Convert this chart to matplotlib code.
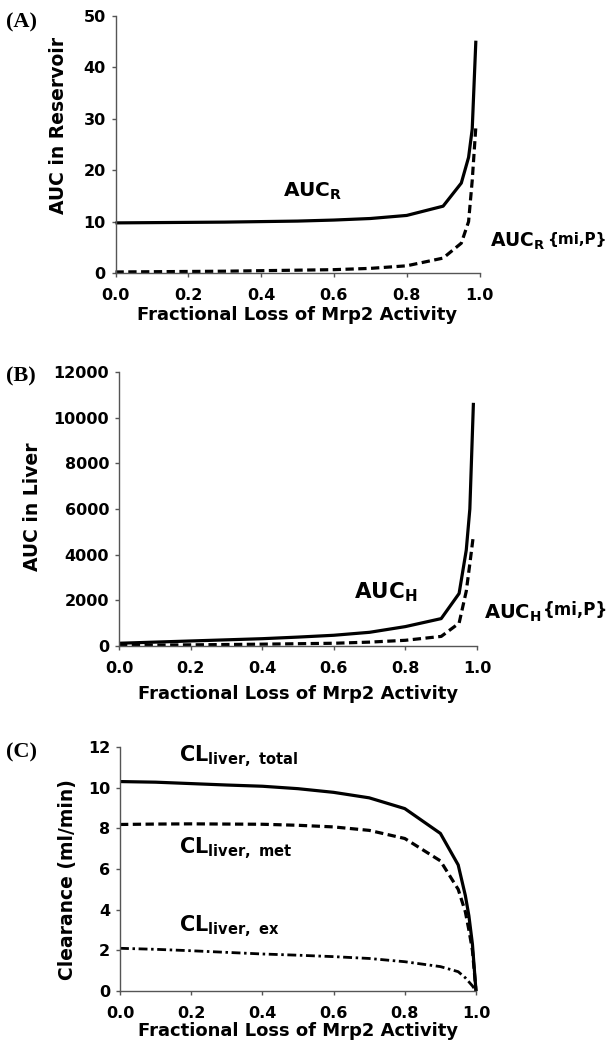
import matplotlib
matplotlib.use("Agg")
import matplotlib.pyplot as plt

plt.rcParams['font.family'] = ['DejaVu Sans']
plt.rcParams['font.weight'] = 'bold'
plt.rcParams['mathtext.fontset'] = 'custom'
plt.rcParams['mathtext.rm'] = 'DejaVu Sans:bold'
plt.rcParams['mathtext.it'] = 'DejaVu Sans:bold'
plt.rcParams['mathtext.bf'] = 'DejaVu Sans:bold'
plt.rcParams['mathtext.sf'] = 'DejaVu Sans:bold'
plt.rcParams['mathtext.default'] = 'rm'

# ---- data ----
x_auc = [0, 0.1, 0.2, 0.3, 0.4, 0.5, 0.6, 0.7, 0.8, 0.9, 0.95, 0.97, 0.98, 0.99]
auc_r = [9.75, 9.8, 9.85, 9.9, 10.0, 10.1, 10.3, 10.6, 11.2, 13.0, 17.5, 22.5, 28.0, 45.2]
auc_r_mip = [0.2, 0.25, 0.3, 0.35, 0.45, 0.55, 0.65, 0.9, 1.4, 2.9, 5.8, 10.0, 18.0, 28.5]

auc_h = [120, 170, 220, 270, 320, 390, 470, 600, 850, 1200, 2300, 4200, 6000, 10650]
auc_h_mip = [30, 40, 50, 65, 80, 100, 120, 170, 250, 420, 1000, 2400, 3600, 4850]

x_cl = [0, 0.1, 0.2, 0.3, 0.4, 0.5, 0.6, 0.7, 0.8, 0.9, 0.95, 0.97, 0.98, 0.99, 1.0]
cl_total = [10.3, 10.27, 10.2, 10.13, 10.07, 9.95, 9.77, 9.5, 8.97, 7.75, 6.2, 4.7, 3.7, 2.3, 0]
cl_met = [8.19, 8.21, 8.22, 8.21, 8.2, 8.15, 8.07, 7.9, 7.5, 6.4, 5.0, 3.9, 3.0, 2.0, 0]
cl_ex = [2.1, 2.05, 1.98, 1.9, 1.82, 1.76, 1.69, 1.6, 1.44, 1.2, 0.95, 0.65, 0.45, 0.25, 0]

xticks = [0.0, 0.2, 0.4, 0.6, 0.8, 1.0]
xtick_labels = ['0.0', '0.2', '0.4', '0.6', '0.8', '1.0']
xlabel = 'Fractional Loss of Mrp2 Activity'

W, H = 615, 1050
fig = plt.figure(figsize=(W / 100, H / 100), dpi=100)

def axes_px(l, r, t, b):
    return fig.add_axes([l / W, 1 - b / H, (r - l) / W, (b - t) / H])

axA = axes_px(115.5, 479.5, 16, 273)
axB = axes_px(119, 477, 372, 646)
axC = axes_px(120, 476, 747, 991)

solid = dict(color='black', lw=2.3, solid_capstyle='butt')
dashed = dict(color='black', lw=2.3, linestyle=(0, (2.6, 1.4)))
dashdot = dict(color='black', lw=2.0, linestyle=(0, (3.2, 1.3, 0.9, 1.3)))

def style(ax, ymax, yticks, ylabel, ylab_xy, xlab_y):
    ax.set_xlim(0, 1.0)
    ax.set_ylim(0, ymax)
    ax.set_xticks(xticks)
    ax.set_xticklabels(xtick_labels)
    ax.set_yticks(yticks)
    for s in ['top', 'right']:
        ax.spines[s].set_visible(False)
    for s in ['left', 'bottom']:
        ax.spines[s].set_color('#555555')
        ax.spines[s].set_linewidth(1.0)
    ax.tick_params(axis='both', direction='out', length=3, width=1.0,
                   color='#555555', labelsize=11.5)
    ax.tick_params(axis='x', pad=8)
    ax.tick_params(axis='y', pad=4)
    for lab in ax.get_xticklabels() + ax.get_yticklabels():
        lab.set_fontweight('bold')
    ax.set_ylabel(ylabel, fontsize=13.5, fontweight='bold', va='center')
    ax.yaxis.set_label_coords(*ylab_xy)
    ax.set_xlabel(xlabel, fontsize=13, fontweight='bold', va='center')
    ax.xaxis.set_label_coords(0.5, xlab_y)
    ax.patch.set_alpha(0)
    for line in ax.lines:
        line.set_clip_on(False)

# Panel A
axA.plot(x_auc, auc_r, **solid)
axA.plot(x_auc, auc_r_mip, **dashed)
style(axA, 50, [0, 10, 20, 30, 40, 50], 'AUC in Reservoir',
      ((59 - 115.5) / 364, (273 - 125) / 257), (273 - 315) / 257)
axA.text(0.46, 14.8, r'AUC$_{R}$', fontsize=14.5, fontweight='bold',
         ha='left', va='baseline')
tA = axA.text(1.03, 5.1, r'AUC$_{R}$', fontsize=13.5, fontweight='bold',
              ha='left', va='baseline', clip_on=False)
axA.annotate('{mi,P}', xy=(1, 0), xycoords=tA, xytext=(1, 3.5),
             textcoords='offset points', fontsize=11, fontweight='bold',
             ha='left', va='bottom', annotation_clip=False)

# Panel B
axB.plot(x_auc, auc_h, **solid)
axB.plot(x_auc, auc_h_mip, **dashed)
style(axB, 12000, [0, 2000, 4000, 6000, 8000, 10000, 12000], 'AUC in Liver',
      ((33 - 119) / 358, (646 - 507) / 274), (646 - 694) / 274)
axB.text(0.657, 2070, r'AUC$_{H}$', fontsize=15.5, fontweight='bold',
         ha='left', va='baseline')
tB = axB.text(1.02, 1210, r'AUC$_{H}$', fontsize=14, fontweight='bold',
              ha='left', va='baseline', clip_on=False)
axB.annotate('{mi,P}', xy=(1, 0), xycoords=tB, xytext=(1, 3.5),
             textcoords='offset points', fontsize=12, fontweight='bold',
             ha='left', va='bottom', annotation_clip=False)

# Panel C
axC.plot(x_cl, cl_total, **solid)
axC.plot(x_cl, cl_met, **dashed)
axC.plot(x_cl, cl_ex, **dashdot)
style(axC, 12, [0, 2, 4, 6, 8, 10, 12], 'Clearance (ml/min)',
      ((67 - 120) / 356, (991 - 880) / 244), (991 - 1031) / 244)
axC.text(0.167, 11.3, r'CL$_{liver,\ total}$', fontsize=15, fontweight='bold',
         ha='left', va='baseline')
axC.text(0.167, 6.76, r'CL$_{liver,\ met}$', fontsize=15, fontweight='bold',
         ha='left', va='baseline')
axC.text(0.167, 2.91, r'CL$_{liver,\ ex}$', fontsize=15, fontweight='bold',
         ha='left', va='baseline')

# Panel letters
serif = ['Liberation Serif', 'DejaVu Serif']
fig.text(6 / W, 1 - 22 / H, '(A)', family=serif, fontsize=16, fontweight='bold', va='center')
fig.text(6 / W, 1 - 376 / H, '(B)', family=serif, fontsize=16, fontweight='bold', va='center')
fig.text(6 / W, 1 - 752 / H, '(C)', family=serif, fontsize=16, fontweight='bold', va='center')

fig.savefig('out.png', dpi=100, facecolor='white')
